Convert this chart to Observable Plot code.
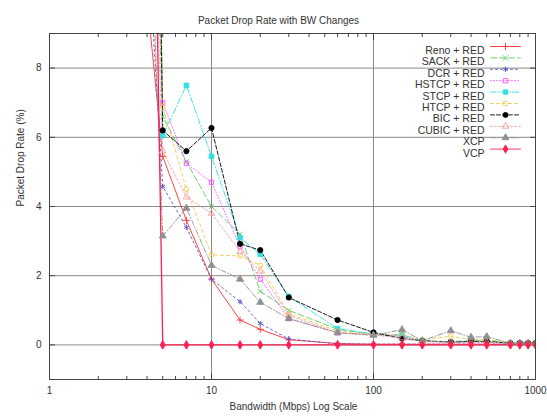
<!DOCTYPE html>
<html>
<head>
<meta charset="utf-8">
<script src="https://cdn.jsdelivr.net/npm/d3@7"></script>
<script src="https://cdn.jsdelivr.net/npm/@observablehq/plot@0.6"></script>
<style>
  html, body { margin: 0; padding: 0; background: #fff; }
  #chart { width: 547px; height: 418px; }
</style>
</head>
<body>
<div id="chart"></div>
<script>
// ---- data ----
const bandwidth = [4, 5, 7, 10, 15, 20, 30, 60, 100, 150, 200, 300, 400, 500, 700, 800, 900, 1000];

const reno  = [10, 5.45, 3.6, 1.9, 0.72, 0.45, 0.15, 0.04, 0.02, 0.02, 0.02, 0.02, 0.02, 0.02, 0.02, 0.02, 0.02, 0.02];
const sack  = [20, 6.6, 5.3, 4.0, 3.2, 1.55, 1.0, 0.45, 0.3, 0.25, 0.1, 0.1, 0.12, 0.15, 0.05, 0.05, 0.05, 0.05];
const dcr   = [12, 4.58, 3.4, 1.9, 1.25, 0.62, 0.17, 0.03, 0.02, 0.02, 0.02, 0.02, 0.02, 0.02, 0.02, 0.02, 0.02, 0.02];
const hstcp = [30, 7.0, 5.25, 4.7, 2.85, 1.9, 0.76, 0.35, 0.3, 0.25, 0.1, 0.08, 0.08, 0.08, 0.04, 0.04, 0.04, 0.04];
const stcp  = [40, 6.05, 7.5, 5.45, 3.1, 2.62, 1.4, 0.47, 0.32, 0.29, 0.12, 0.08, 0.1, 0.1, 0.04, 0.04, 0.04, 0.04];
const htcp  = [25, 6.9, 4.5, 2.6, 2.57, 2.3, 0.9, 0.4, 0.3, 0.3, 0.15, 0.25, 0.15, 0.15, 0.05, 0.05, 0.05, 0.05];
const bic   = [35, 6.2, 5.6, 6.27, 2.92, 2.74, 1.37, 0.72, 0.36, 0.18, 0.12, 0.08, 0.1, 0.1, 0.05, 0.05, 0.05, 0.05];
const cubic = [18, 5.6, 4.27, 3.8, 2.7, 2.13, 0.85, 0.35, 0.28, 0.2, 0.1, 0.08, 0.08, 0.08, 0.04, 0.04, 0.04, 0.04];
const xcp   = [15, 3.15, 3.95, 2.3, 1.9, 1.23, 0.76, 0.35, 0.28, 0.44, 0.12, 0.41, 0.22, 0.24, 0.05, 0.05, 0.05, 0.05];
const vcp   = [27, 0, 0, 0, 0, 0, 0, 0, 0, 0, 0, 0, 0, 0, 0, 0, 0, 0];

const seriesNames  = ["Reno + RED", "SACK + RED", "DCR + RED", "HSTCP + RED", "STCP + RED", "HTCP + RED", "BIC + RED", "CUBIC + RED", "XCP", "VCP"];
const seriesValues = [reno, sack, dcr, hstcp, stcp, htcp, bic, cubic, xcp, vcp];
const seriesColors = ["#ff3030", "#60cc60", "#5050d0", "#ff50ff", "#30e0e0", "#f0c850", "#000000", "#f0a0a0", "#909090", "#ff2050"];
const seriesSymbols = ["plus", "times", "asterisk", "square", "square", "circle", "circle", "triangle", "triangle", "diamond"];
const seriesFilled  = [false, false, false, false, true, false, true, false, true, true];
const seriesDash    = [null, "6,3", "2,3", "1,2", "6,2,1,2", "3,3", "4,2", "2,2", "5,2,1,2", null];

const xMajor = [1, 10, 100, 1000];
const xMinor = [2,3,4,5,6,7,8,9,20,30,40,50,60,70,80,90,200,300,400,500,600,700,800,900];
const yTicks = [0, 2, 4, 6, 8];

const titleText = "Packet Drop Rate with BW Changes";
const xLabel = "Bandwidth (Mbps) Log Scale";
const yLabel = "Packet Drop Rate (%)";

// ---- build ----
const tables = seriesValues.map(vals => bandwidth.map((b, i) => ({bw: b, v: vals[i]})));

const marks = [
  Plot.gridY(yTicks, {stroke: "#8a8a8a", strokeOpacity: 1}),
  Plot.gridX([10, 100], {stroke: "#8a8a8a", strokeOpacity: 1}),
  // inward ticks
  Plot.axisX(xMajor, {anchor: "bottom", tickSize: -6, text: null, label: null, stroke: "#444"}),
  Plot.axisX(xMajor, {anchor: "top", tickSize: -6, text: null, label: null, stroke: "#444"}),
  Plot.axisX(xMinor, {anchor: "bottom", tickSize: -3, text: null, label: null, stroke: "#444"}),
  Plot.axisX(xMinor, {anchor: "top", tickSize: -3, text: null, label: null, stroke: "#444"}),
  Plot.axisY(yTicks, {anchor: "left", tickSize: -6, text: null, label: null, stroke: "#444"}),
  Plot.axisY(yTicks, {anchor: "right", tickSize: -6, text: null, label: null, stroke: "#444"}),
  // labels
  Plot.axisX(xMajor, {anchor: "bottom", tickSize: 0, tickPadding: 7, tickFormat: d => String(d), label: null, fill: "#333"}),
  Plot.axisY(yTicks, {anchor: "left", tickSize: 0, tickPadding: 8, tickFormat: d => String(d), label: null, fill: "#333"})
];

tables.forEach((t, i) => {
  marks.push(Plot.line(t, {x: "bw", y: "v", stroke: seriesColors[i], strokeWidth: i === 9 ? 1.3 : 0.9, strokeDasharray: seriesDash[i], clip: true}));
});
tables.forEach((t, i) => {
  const filled = seriesFilled[i];
  marks.push(Plot.dot(t, {x: "bw", y: "v", symbol: seriesSymbols[i], r: filled ? 2.6 : 2.4,
    fill: filled ? seriesColors[i] : "none",
    stroke: seriesColors[i], strokeWidth: 0.9, clip: true}));
});

// frame
marks.push(Plot.frame({stroke: "#444"}));

// legend (top-right, inside the frame)
const lineShape = {draw(context, l) { context.moveTo(0, 0); context.lineTo(0, -l); }};
seriesNames.forEach((name, i) => {
  const dy = 13 + i * 11.4;
  marks.push(Plot.text([name], {frameAnchor: "top-right", dx: -51, dy, textAnchor: "end", fontSize: 10.5, fill: "#333"}));
  marks.push(Plot.vector([0], {frameAnchor: "top-right", dx: -45, dy, length: 30, rotate: 90, anchor: "start",
    shape: lineShape, stroke: seriesColors[i], strokeWidth: 0.9, strokeDasharray: seriesDash[i]}));
  marks.push(Plot.dot([0], {frameAnchor: "top-right", dx: -30, dy, symbol: seriesSymbols[i], r: 2.5,
    fill: seriesFilled[i] ? seriesColors[i] : "none", stroke: seriesColors[i], strokeWidth: 0.9}));
});

// title & axis titles
marks.push(Plot.text([titleText], {frameAnchor: "top", dx: -14, dy: -17, fontSize: 10, fill: "#333"}));
marks.push(Plot.text([xLabel], {frameAnchor: "bottom", dx: 1, dy: 30, fontSize: 10, fill: "#333"}));
marks.push(Plot.text([yLabel], {frameAnchor: "left", dx: -29, dy: 0, rotate: -90, fontSize: 10, fill: "#333"}));

const chart = Plot.plot({
  width: 547,
  height: 418,
  marginLeft: 49,
  marginRight: 12,
  marginTop: 33,
  marginBottom: 39,
  style: {fontFamily: "'Liberation Sans', Arial, sans-serif", fontSize: "10px", background: "#fff", color: "#333"},
  x: {type: "log", domain: [1, 1000], axis: null},
  y: {domain: [-1, 9], axis: null},
  marks
});
document.getElementById("chart").appendChild(chart);
</script>
</body>
</html>
